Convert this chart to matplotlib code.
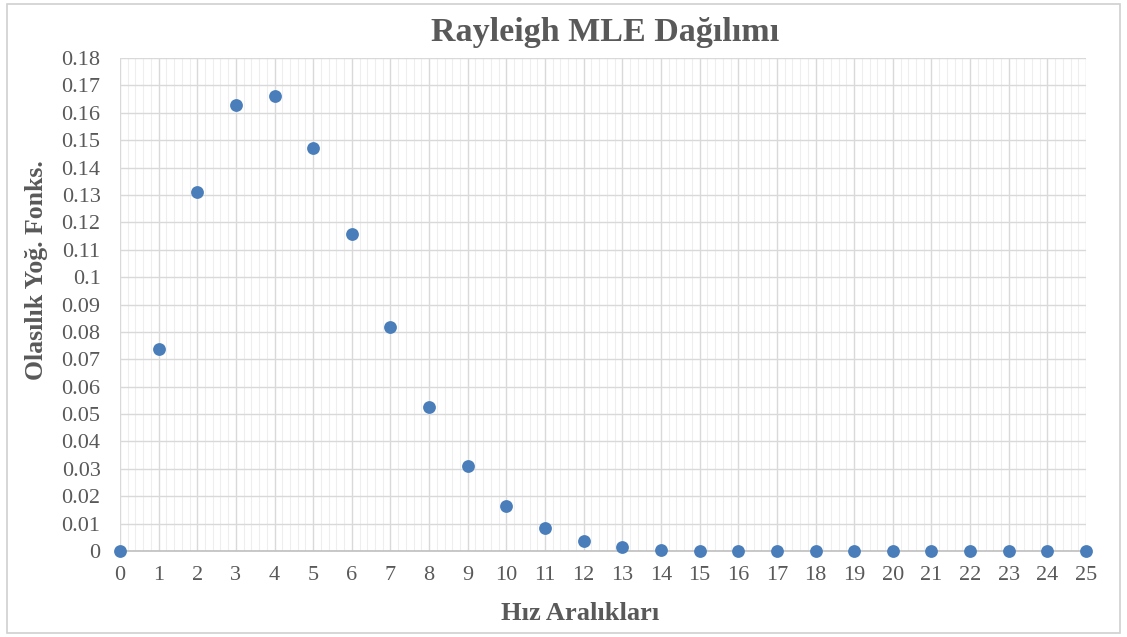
import matplotlib
matplotlib.use("Agg")
import matplotlib.pyplot as plt
from matplotlib.ticker import MultipleLocator, FuncFormatter
from matplotlib.patches import Rectangle

x_values = list(range(0, 26))
pdf_values = [0.0, 0.0737, 0.131, 0.1628, 0.166, 0.147, 0.1158, 0.0818, 0.0527, 0.0312,
              0.0166, 0.0085, 0.0038, 0.0013, 0.0004, 0.0001, 0.0, 0.0, 0.0, 0.0,
              0.0, 0.0, 0.0, 0.0, 0.0, 0.0]

title = "Rayleigh MLE Dağılımı"
xlabel = "Hız Aralıkları"
ylabel = "Olasılık Yoğ. Fonks."

plt.rcParams['font.family'] = ['Liberation Serif', 'DejaVu Serif']

W, H = 1127, 637
fig = plt.figure(figsize=(W / 100, H / 100), dpi=100)
fig.patches.append(Rectangle((0.006, 0.006), 0.988, 0.988, transform=fig.transFigure,
                             fill=False, edgecolor='#d0d0d0', linewidth=1.2))
x0, x1, y0, y1 = 120, 1086, 551, 58
ax = fig.add_axes([x0 / W, (H - y0) / H, (x1 - x0) / W, (y0 - y1) / H])

ax.scatter(x_values, pdf_values, s=85, color='#4a7ebb', zorder=3, clip_on=False, linewidths=0)

ax.set_xlim(0, 25)
ax.set_ylim(0, 0.18)
ax.xaxis.set_major_locator(MultipleLocator(1))
ax.xaxis.set_minor_locator(MultipleLocator(0.2))
ax.yaxis.set_major_locator(MultipleLocator(0.01))
ax.yaxis.set_major_formatter(FuncFormatter(lambda v, p: f"{round(v, 2):g}"))

ax.grid(True, which='major', color='#d9d9d9', linewidth=1.0, zorder=0)
ax.grid(True, which='minor', axis='x', color='#eeeeee', linewidth=0.8, zorder=0)
ax.set_axisbelow(True)
for s in ['top', 'right', 'left']:
    ax.spines[s].set_visible(False)
ax.spines['bottom'].set_color('#bfbfbf')
ax.spines['bottom'].set_linewidth(1.2)

ax.tick_params(which='both', length=0)
ax.tick_params(axis='x', pad=11, labelsize=16, labelcolor='#595959')
ax.tick_params(axis='y', pad=14, labelsize=16, labelcolor='#595959')

fig.text(605 / W, 1 - 33 / H, title, fontsize=24.5, fontweight='bold', color='#595959',
         ha='center', va='center')
ax.set_xlabel(xlabel, fontsize=19, fontweight='bold', color='#595959', va='center')
ax.xaxis.set_label_coords((580 - x0) / (x1 - x0), (y0 - 613) / (y0 - y1))
ax.set_ylabel(ylabel, fontsize=18.5, fontweight='bold', color='#595959', va='center')
ax.yaxis.set_label_coords((37 - x0) / (x1 - x0), (y0 - 270) / (y0 - y1))

fig.savefig("out.png", dpi=100)
